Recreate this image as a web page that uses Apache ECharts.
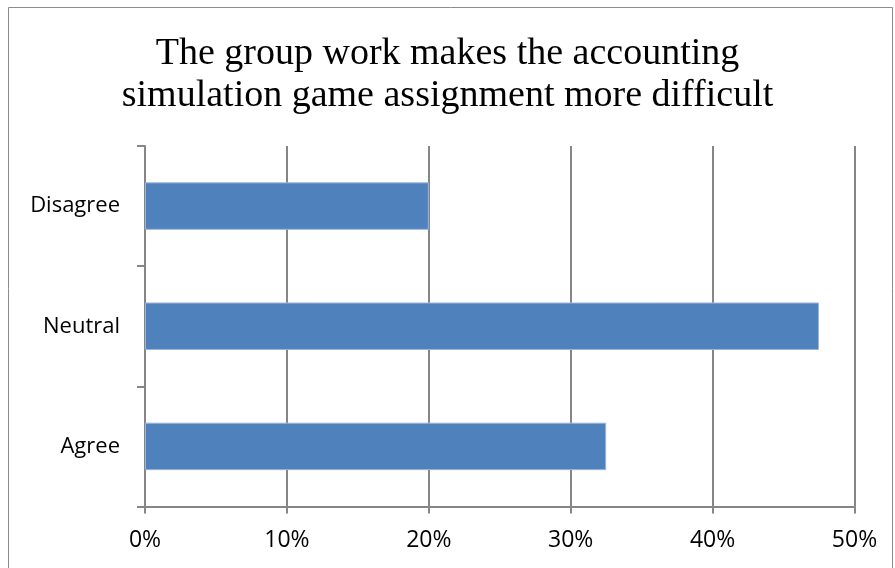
<!DOCTYPE html>
<html>
<head>
<meta charset="utf-8">
<script src="https://cdn.jsdelivr.net/npm/echarts@6/dist/echarts.min.js"></script>
<style>
  html, body { margin: 0; padding: 0; background: #ffffff; }
  #chart { width: 895px; height: 568px; }
</style>
</head>
<body>
<div id="chart"></div>
<script>
// Survey responses, listed bottom to top
const categories = ['Agree', 'Neutral', 'Disagree'];
const shares = [32.5, 47.5, 20];
const titleLines = ['The group work makes the accounting', 'simulation game assignment more difficult'];

const chart = echarts.init(document.getElementById('chart'));
const gray = '#868686';
const labelFont = '"Open Sans", "Liberation Sans", sans-serif';

chart.setOption({
  animation: false,
  backgroundColor: '#ffffff',
  title: {
    text: titleLines.join('\n'),
    left: 'center',
    top: 28,
    textStyle: {
      fontFamily: '"Liberation Serif", "Times New Roman", serif',
      fontWeight: 'normal',
      fontSize: 38,
      lineHeight: 42,
      color: '#000000'
    }
  },
  graphic: [{
    type: 'rect',
    shape: { x: 8.5, y: 7.5, width: 884, height: 570 },
    style: { fill: 'none', stroke: '#8c8c8c', lineWidth: 1 },
    silent: true
  }],
  grid: { left: 145, right: 40.5, top: 146, bottom: 61.5 },
  xAxis: {
    type: 'value',
    min: 0,
    max: 50,
    interval: 10,
    axisLine: { show: true, lineStyle: { color: gray, width: 2 } },
    axisTick: { show: true, length: 7, lineStyle: { color: gray, width: 2 } },
    splitLine: { show: true, lineStyle: { color: gray, width: 2 } },
    axisLabel: {
      formatter: '{value}%',
      margin: 22,
      fontFamily: labelFont,
      fontSize: 23,
      color: '#000000'
    }
  },
  yAxis: {
    type: 'category',
    data: categories,
    axisLine: { show: true, lineStyle: { color: gray, width: 2 } },
    axisTick: { show: true, length: 8, lineStyle: { color: gray, width: 2 } },
    axisLabel: {
      margin: 25,
      fontFamily: labelFont,
      fontSize: 22,
      color: '#000000'
    }
  },
  series: [{
    type: 'bar',
    data: shares,
    barWidth: '39.5%',
    itemStyle: {
      color: '#4F81BD',
      borderColor: '#9ab6dc',
      borderWidth: 1
    }
  }]
});
</script>
</body>
</html>
